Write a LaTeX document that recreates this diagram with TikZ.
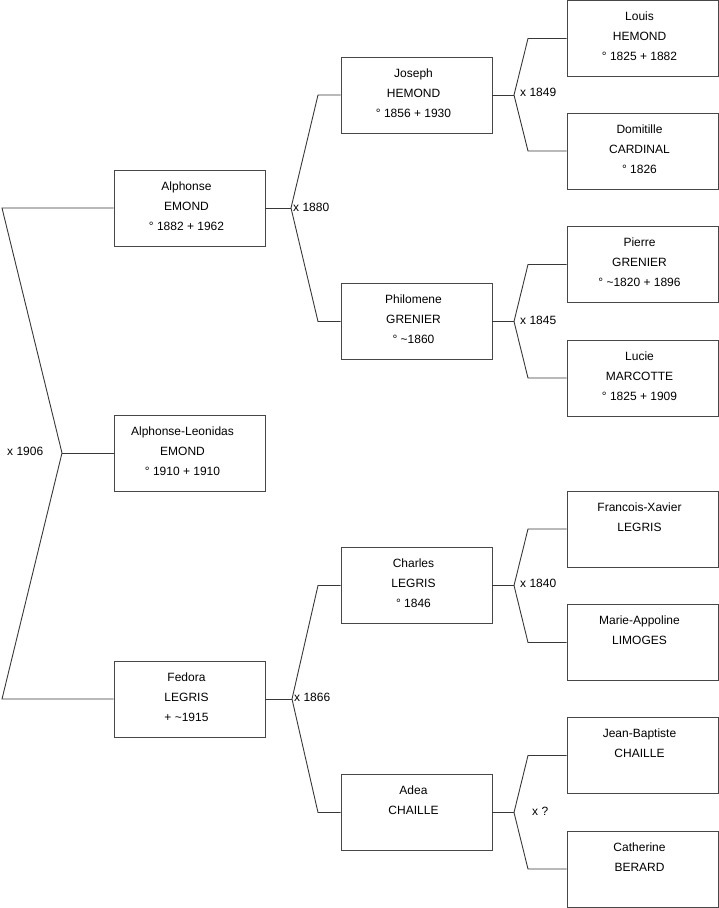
\documentclass[tikz,border=0pt]{standalone}
\usepackage{fontspec}
\setmainfont{Liberation Sans}
\newcommand{\personlines}[4][6pt]{\begin{tabular}{@{}c@{}}#2\\#3\\\rule[-10pt]{0pt}{24pt}#4\end{tabular}\hspace*{#1}}
\begin{document}
\begin{tikzpicture}[x=1pt,y=-1pt,
  person/.style={draw=black!72, line width=0.9pt, minimum width=151pt, minimum height=76pt,
    inner sep=0pt, font=\fontsize{12}{20}\selectfont},
  link/.style={draw=black!78, line width=0.9pt},
  lbl/.style={font=\fontsize{12}{14}\selectfont, inner sep=0pt, anchor=west}]
\useasboundingbox (0,0) rectangle (719,908);
% level 1
\node[person] (alph) at (189.5,208) {\personlines{Alphonse}{EMOND}{° 1882 + 1962}};
\node[person] (alphl) at (189.5,453) {\personlines[14pt]{Alphonse-Leonidas}{EMOND}{° 1910 + 1910}};
\node[person] (fed) at (189.5,699) {\personlines{Fedora}{LEGRIS}{+ \textasciitilde1915}};
% level 2
\node[person] (jos) at (416.5,95) {\personlines{Joseph}{HEMOND}{° 1856 + 1930}};
\node[person] (phil) at (416.5,321.5) {\personlines{Philomene}{GRENIER}{° \textasciitilde1860}};
\node[person] (cha) at (416.5,585.5) {\personlines{Charles}{LEGRIS}{° 1846}};
\node[person] (adea) at (416.5,812.5) {\personlines{Adea}{CHAILLE}{}};
% level 3
\node[person] (lou) at (642.5,38.5) {\personlines{Louis}{HEMOND}{° 1825 + 1882}};
\node[person] (dom) at (642.5,151) {\personlines{Domitille}{CARDINAL}{° 1826}};
\node[person] (pie) at (642.5,264.5) {\personlines{Pierre}{GRENIER}{° \textasciitilde1820 + 1896}};
\node[person] (luc) at (642.5,378) {\personlines{Lucie}{MARCOTTE}{° 1825 + 1909}};
\node[person] (fx) at (642.5,529) {\personlines{Francois-Xavier}{LEGRIS}{}};
\node[person] (ma) at (642.5,642.5) {\personlines{Marie-Appoline}{LIMOGES}{}};
\node[person] (jb) at (642.5,755.5) {\personlines{Jean-Baptiste}{CHAILLE}{}};
\node[person] (cat) at (642.5,869) {\personlines{Catherine}{BERARD}{}};
% junctions
\coordinate (j0) at (62,453);
\coordinate (t0) at (2,208);
\coordinate (b0) at (2,699);
\coordinate (j1) at (291,208);
\coordinate (j2) at (292,699);
\coordinate (j3) at (514,95);
\coordinate (j4) at (514,321.5);
\coordinate (j5) at (514,585.5);
\coordinate (j6) at (514,812.5);
% connectors
\draw[link] (alph.west) -- (t0) -- (j0) -- (b0) -- (fed.west);
\draw[link] (j0) -- (alphl.west);
\draw[link] (alph.east) -- (j1);
\draw[link] (jos.west) -- (318,95) -- (j1) -- (318,321.5) -- (phil.west);
\draw[link] (fed.east) -- (j2);
\draw[link] (cha.west) -- (318,585.5) -- (j2) -- (318,812.5) -- (adea.west);
\draw[link] (jos.east) -- (j3);
\draw[link] (lou.west) -- (528,38.5) -- (j3) -- (528,151) -- (dom.west);
\draw[link] (phil.east) -- (j4);
\draw[link] (pie.west) -- (528,264.5) -- (j4) -- (528,378) -- (luc.west);
\draw[link] (cha.east) -- (j5);
\draw[link] (fx.west) -- (528,529) -- (j5) -- (528,642.5) -- (ma.west);
\draw[link] (adea.east) -- (j6);
\draw[link] (jb.west) -- (528,755.5) -- (j6) -- (528,869) -- (cat.west);
% marriage labels
\node[lbl] (m0) at (7,451) {x 1906};
\node[lbl] (m1) at (293,207) {x 1880};
\node[lbl] (m2) at (294,697) {x 1866};
\node[lbl] (m3) at (520,92) {x 1849};
\node[lbl] (m4) at (520,320) {x 1845};
\node[lbl] (m5) at (520,583) {x 1840};
\node[lbl] (m6) at (532,811) {x ?};
\end{tikzpicture}
\end{document}
